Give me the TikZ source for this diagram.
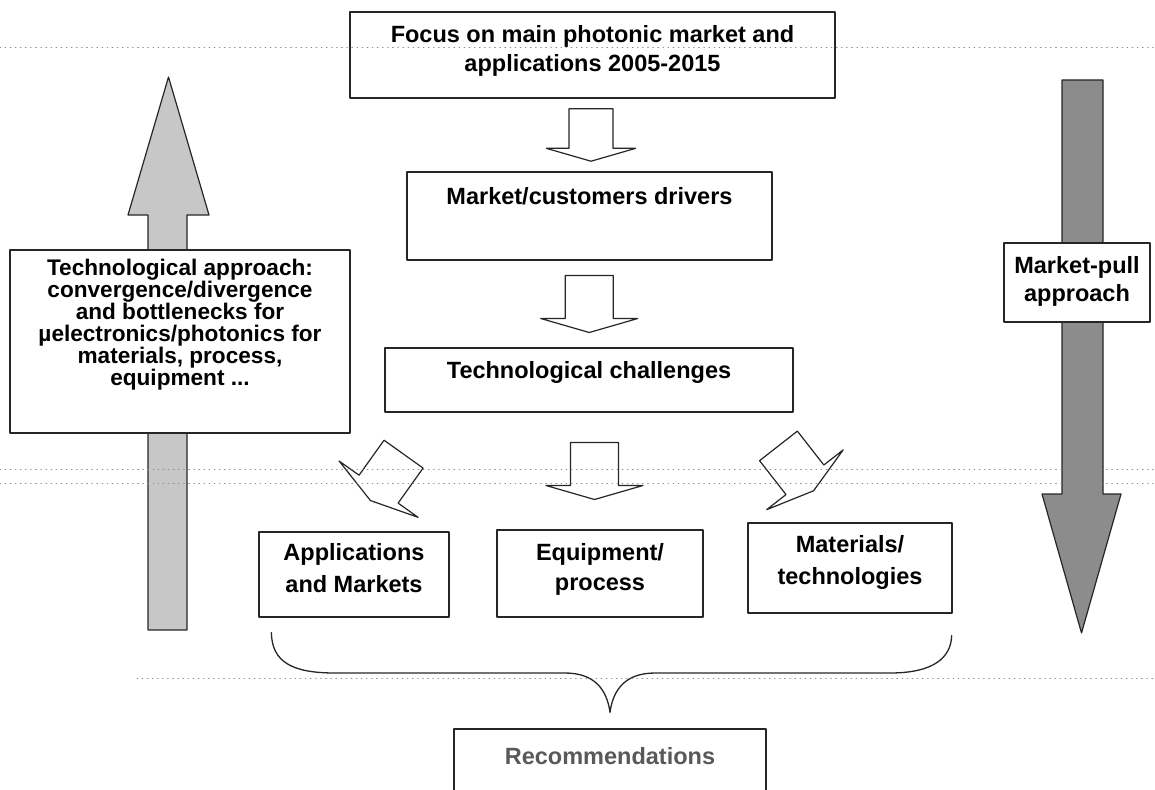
\documentclass[tikz,border=0pt]{standalone}
\usepackage{fontspec}
\setmainfont{Liberation Sans}
\usepackage{tikz}
\usetikzlibrary{calc}

\begin{document}
\begin{tikzpicture}[line cap=round,line join=round,x=1pt,y=-1pt,
	font=\bfseries\fontsize{23.5}{30}\selectfont,
	box/.style={draw=black!85,line width=1.3pt,fill=white,inner sep=0pt,align=center},
	lift/.style={text depth=#1},
	bigarrow/.style={draw=black!85,line width=1.2pt},
	dotline/.style={draw=black!45,line width=1pt,dash pattern=on 0.6pt off 4.5pt},
	blockarr/.pic={\draw[line width=1.2pt,draw=black!85,fill=white] (-24,-28.5) -- (24,-28.5) -- (24,14.5) -- (48.5,14.5) -- (0,28.5) -- (-48.5,14.5) -- (-24,14.5) -- cycle;}]
	\path[use as bounding box,clip] (0,0) rectangle (1155,789);
	\draw[bigarrow,fill=black!22] (168.5,77) -- (209,215) -- (187,215) -- (187,630) -- (148,630) -- (148,215) -- (128,215) -- cycle;
	\draw[bigarrow,fill=black!45] (1062,80) -- (1103,80) -- (1103,494) -- (1121,494) -- (1081.5,633) -- (1042,494) -- (1062,494) -- cycle;
	\node[box,lift=14pt,minimum width=485pt,minimum height=86pt,font=\bfseries\fontsize{23.5}{29}\selectfont] (focus) at (592.5,55) {Focus on main photonic market and\\applications 2005-2015};
	\node[box,lift=40pt,minimum width=365pt,minimum height=88pt] (drivers) at (589.5,216) {Market/customers drivers};
	\node[box,lift=20pt,minimum width=408pt,minimum height=64pt] (challenges) at (589,380) {Technological challenges};
	\node[box,lift=38pt,minimum width=340pt,minimum height=183pt,font=\bfseries\fontsize{22.6}{22}\selectfont] (approach) at (180,341.5) {Technological approach:\\convergence/divergence\\and bottlenecks for\\µelectronics/photonics for\\materials, process,\\equipment ...};
	\node[box,lift=8pt,minimum width=146pt,minimum height=79pt,font=\bfseries\fontsize{23.5}{28}\selectfont] (pull) at (1077,282.5) {Market-pull\\approach};
	\node[box,lift=14pt,minimum width=190pt,minimum height=85pt,font=\bfseries\fontsize{23.5}{32}\selectfont] (apps) at (354,574.5) {Applications\\and Markets};
	\node[box,lift=14pt,minimum width=206pt,minimum height=87pt] (equip) at (600,573.5) {Equipment/\\process};
	\node[box,lift=16pt,minimum width=204pt,minimum height=90pt,font=\bfseries\fontsize{23.5}{32}\selectfont] (mat) at (850,568) {Materials/\\technologies};
	\node[box,lift=46pt,minimum width=312pt,minimum height=100pt,text=black!65] (rec) at (610,779) {Recommendations};
	\pic[scale=0.92] at ($(focus.south)!0.5!(drivers.north)$) {blockarr};
	\pic at ($(drivers.south)!0.5!(challenges.north)$) {blockarr};
	\pic at ($(challenges.south)!0.5!(equip.north)$) {blockarr};
	\pic[rotate=-35.5] at ($(apps.north)+(33,-54)$) {blockarr};
	\pic[rotate=38] at ($(mat.north)+(-54,-54)$) {blockarr};
	\coordinate (cusp) at ($(rec.north)+(0,-16)$);
	\draw[line width=1.3pt,black!85] ($(apps.south west)+(13,15)$) .. controls (272,662) and (292,673) .. (335,673) -- (565,673) .. controls (595,673) and (607,690) .. (cusp) .. controls (613,690) and (625,673) .. (655,673) -- (890,673) .. controls (933,673) and (951,658) .. ($(mat.south east)+(-1,22)$);
	\draw[dotline] (0,48) -- (1155,48);
	\draw[dotline] (0,469) -- (1155,469);
	\draw[dotline] (0,483) -- (1155,483);
	\draw[dotline] (137,678) -- (1155,678);
\end{tikzpicture}
\end{document}
